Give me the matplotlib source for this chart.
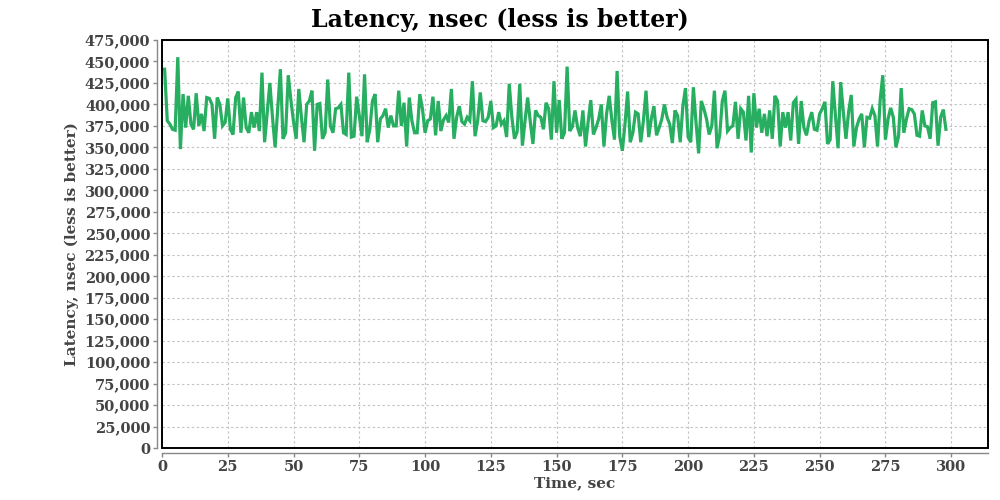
import matplotlib
matplotlib.use("Agg")
import matplotlib.pyplot as plt
import numpy as np
from matplotlib.ticker import FuncFormatter, MultipleLocator
from matplotlib.patches import Rectangle

title = "Latency, nsec (less is better)"
x_label = "Time, sec"
y_label = "Latency, nsec (less is better)"

# latency readings, thousands of nsec, one per second
latency_k = [
    441, 381, 377, 371, 370, 455, 348, 412, 373, 410, 377, 371, 413, 375, 389, 369,
    408, 407, 400, 360, 408, 400, 375, 379, 407, 371, 365, 408, 415, 367, 408,
    373, 367, 391, 373, 391, 369, 437,
    356, 390, 425, 385, 350, 395, 441, 360, 367, 434, 405, 380, 360, 418, 385, 356,
    400, 404, 416, 346, 400, 401, 360,
    367, 429, 375, 367, 395, 396, 400, 367, 365, 437, 362, 363, 409, 387, 363, 435,
    356, 371, 404, 412, 356, 383, 387, 395, 373, 387, 375, 375, 416, 375, 402,
    351, 408, 381, 367, 367, 412, 395, 367, 381, 383, 409, 364, 404, 369, 382, 387,
    379, 418, 360, 385, 398, 380, 377, 385, 381, 427, 363, 381, 414, 381, 380,
    385, 404, 373, 375, 391, 377, 381, 362, 424, 385, 360, 368, 424, 352, 381, 408,
    380, 354, 393, 387, 385, 371, 402, 395, 359, 427, 367, 405,
    360, 367, 444, 369, 374, 393, 373, 363, 393, 351, 380, 405, 365, 373, 383, 400,
    351, 389, 410, 382, 359, 439, 363, 346, 377, 415, 356, 367, 391, 389, 356, 381,
    416, 362, 383, 398, 364, 373, 383, 400, 385, 377, 355, 393, 387, 356, 398, 419,
    362, 356, 420, 379, 343, 404, 395, 383, 365, 375, 416, 349,
    364, 404, 416, 369, 373, 375, 403, 360, 395, 391, 358, 410, 344, 413, 373, 395,
    367, 389, 363, 393, 360, 410, 404, 351, 391, 373, 391, 358, 402, 406, 354, 404,
    373, 364, 381, 391, 371, 370, 389, 395, 403, 354, 359, 427, 387, 349, 426, 391,
    360, 391, 411, 351, 373, 383, 389, 350, 385, 384, 395, 387, 351, 405,
    434, 359, 383, 396, 385, 350, 363, 419, 367, 383, 395, 394, 389, 364, 363, 393,
    375, 374, 360, 402, 403, 352, 385, 394, 371,
]
latency = np.array(latency_k) * 1000
time_sec = np.arange(1, len(latency) + 1)

x_ticks = [0, 25, 50, 75, 100, 125, 150, 175, 200, 225, 250, 275, 300]
y_max = 475000
y_step = 25000

line_color = "#27ae60"
label_color = "#444444"
font = ["DejaVu Serif"]

fig = plt.figure(figsize=(10, 5), dpi=100)
ax = fig.add_axes([0.162, 0.104, 0.826, 0.816])

ax.plot(time_sec, latency, color=line_color, linewidth=2.3, solid_joinstyle="miter", zorder=3)

ax.set_xlim(0, 314)
ax.set_ylim(0, y_max)
ax.set_xticks(x_ticks)
ax.yaxis.set_major_locator(MultipleLocator(y_step))
ax.yaxis.set_major_formatter(FuncFormatter(lambda v, p: f"{int(v):,}"))

ax.grid(True, color="#c4c4c4", linestyle=(0, (2.2, 2.2)), linewidth=0.8)
ax.set_axisbelow(True)

for side in ["left", "bottom"]:
    ax.spines[side].set_position(("outward", 3.5))
    ax.spines[side].set_color("#888888")
    ax.spines[side].set_linewidth(1.0)
for side in ["top", "right"]:
    ax.spines[side].set_visible(False)
ax.add_patch(Rectangle((0, 0), 1, 1, transform=ax.transAxes, fill=False,
                       edgecolor="black", linewidth=1.4, clip_on=False, zorder=4))

ax.tick_params(axis="both", direction="out", length=3, width=1.0, color="#888888",
               labelcolor=label_color, labelsize=10.5, pad=2)
for lab in ax.get_xticklabels() + ax.get_yticklabels():
    lab.set_fontfamily(font)
    lab.set_fontweight("bold")

ax.set_xlabel(x_label, fontsize=11, fontweight="bold", family=font, color=label_color, labelpad=2)
ax.set_ylabel(y_label, fontsize=11, fontweight="bold", family=font, color=label_color, labelpad=4)
fig.suptitle(title, fontsize=17, fontweight="bold", family=font, color="black", y=0.985)

fig.savefig("out.png", dpi=100)
